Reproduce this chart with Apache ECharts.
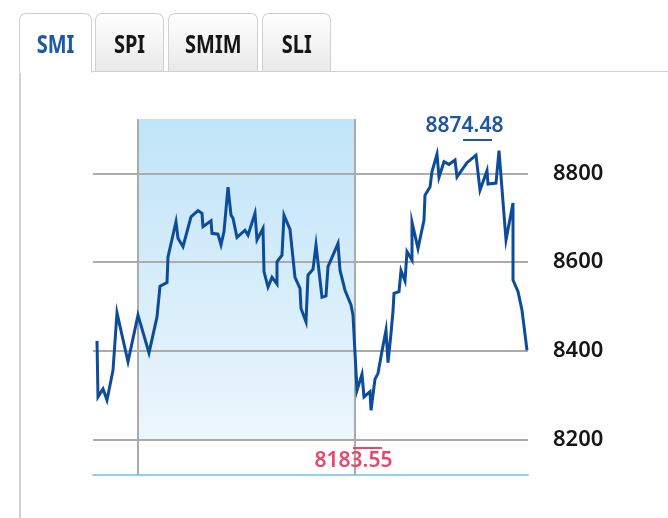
<!DOCTYPE html>
<html>
<head>
<meta charset="utf-8">
<script src="https://cdn.jsdelivr.net/npm/echarts@6/dist/echarts.min.js"></script>
<style>
  html, body { margin: 0; padding: 0; background: #fff; }
  .page { position: relative; width: 668px; height: 518px; overflow: hidden; }
  #chart { position: absolute; left: 0; top: 0; width: 668px; height: 518px; }
  .tab {
    position: absolute; top: 13px; height: 58px;
    border: 1.5px solid #d0d0d0; border-bottom: none;
    border-radius: 7px 7px 0 0;
    background: linear-gradient(#ffffff, #e9e9e9);
    font: 700 25px 'Noto Sans', sans-serif;
    color: #161616; text-align: center; line-height: 58px;
    box-sizing: border-box;
  }
  .tab span { display: inline-block; transform: scaleX(0.8); }
  .tab.active { background: #fff; color: #1d5aa5; height: 60px; z-index: 2; }
  .rule { position: absolute; top: 70.5px; left: 90px; right: 0; height: 1.5px; background: #cfcfcf; }
  .side { position: absolute; top: 60px; left: 19px; width: 1.5px; bottom: 0; background: #d0d0d0; }
</style>
</head>
<body>
<div class="page">
  <div id="chart"></div>
  <div class="rule"></div>
  <div class="side"></div>
  <div class="tab active" style="left:19px;width:73px;"><span>SMI</span></div>
  <div class="tab" style="left:95px;width:69px;"><span>SPI</span></div>
  <div class="tab" style="left:168px;width:90px;"><span>SMIM</span></div>
  <div class="tab" style="left:262px;width:69px;"><span>SLI</span></div>
</div>
<script>
// time position along the period and index level
const t = [4, 5, 10, 14, 20, 24, 35, 45, 56, 64, 67, 74, 75, 83, 85, 90, 98, 105, 109, 110,
  118, 119, 125, 128, 131, 135, 138, 140, 144, 152, 155, 162, 164, 170, 171, 175, 179, 184, 184, 189,
  191, 197, 202, 207, 208, 213, 215, 220, 223, 229, 233, 235, 240, 245, 247, 252, 258, 260, 264, 269,
  271, 277, 278, 282, 285, 289, 293, 295, 298, 300, 301, 306, 308, 312, 314, 319, 319, 325, 331, 332,
  337, 339, 344, 346, 351, 356, 362, 364, 374, 383, 387, 394, 395, 403, 406, 413, 420, 420, 425, 429, 434]
const smi = [8423, 8297, 8315, 8290, 8357, 8486, 8376, 8481, 8396, 8477, 8546, 8554, 8612, 8691, 8654, 8635, 8702, 8716, 8710, 8680,
  8693, 8665, 8663, 8639, 8669, 8769, 8706, 8699, 8656, 8672, 8661, 8710, 8650, 8676, 8579, 8544, 8566, 8551, 8601, 8616,
  8706, 8674, 8566, 8541, 8496, 8466, 8571, 8584, 8639, 8521, 8524, 8590, 8616, 8642, 8582, 8537, 8504, 8481, 8312, 8348,
  8297, 8309, 8267, 8337, 8350, 8400, 8447, 8374, 8440, 8490, 8530, 8534, 8581, 8558, 8624, 8605, 8690, 8631, 8695, 8751,
  8769, 8804, 8843, 8791, 8826, 8820, 8830, 8792, 8824, 8841, 8762, 8806, 8776, 8778, 8851, 8650, 8733, 8560, 8534, 8492, 8402]
const yTicks = [8200, 8400, 8600, 8800]
const highlight = [45, 262]
const maxValue = 8874.48
const maxSpan = [370, 399]
const minValue = 8183.55
const minSpan = [260, 289]

const yMin = 8121.3
const yMax = 8922.2

const chart = echarts.init(document.getElementById('chart'))

const gridLines = yTicks.map(v => ({ yAxis: v }))
const option = {
  animation: false,
  grid: { left: 93, right: 140, top: 119, bottom: 43 },
  xAxis: {
    type: 'value',
    min: 0,
    max: 435,
    axisLine: { show: true, onZero: false, lineStyle: { color: '#8fd0f2', width: 2 } },
    axisTick: { show: false },
    axisLabel: { show: false },
    splitLine: { show: false }
  },
  yAxis: {
    type: 'value',
    min: yMin,
    max: yMax,
    show: false
  },
  series: [
    {
      type: 'line',
      data: t.map((x, i) => [x, smi[i]]),
      symbol: 'none',
      clip: false,
      z: 5,
      lineStyle: { color: '#0d4c9b', width: 3, join: 'miter' },
      markArea: {
        silent: true,
        itemStyle: {
          color: new echarts.graphic.LinearGradient(0, 0, 0, 1, [
            { offset: 0, color: '#c0e4f8' },
            { offset: 1, color: '#ecf6fd' }
          ])
        },
        data: [[{ coord: [highlight[0], 8200] }, { coord: [highlight[1], yMax] }]]
      },
      markLine: {
        silent: true,
        symbol: 'none',
        lineStyle: { color: '#ababab', width: 2, type: 'solid' },
        label: {
          show: true,
          position: 'end',
          distance: 25,
          color: '#161616',
          fontFamily: 'Noto Sans',
          fontWeight: 600,
          fontSize: 22,
          formatter: p => p.value
        },
        data: [
          ...gridLines,
          { xAxis: highlight[0], label: { show: false } },
          { xAxis: highlight[1], label: { show: false } },
          [
            { coord: [maxSpan[0], maxValue], lineStyle: { color: '#1d57a2', width: 2 }, label: { show: false } },
            { coord: [maxSpan[1], maxValue] }
          ],
          [
            { coord: [minSpan[0], minValue], lineStyle: { color: '#e8476b', width: 2 }, label: { show: false } },
            { coord: [minSpan[1], minValue] }
          ]
        ]
      },
      markPoint: {
        silent: true,
        symbolSize: 0,
        label: {
          show: true,
          fontFamily: 'Noto Sans',
          fontWeight: 600,
          fontSize: 21
        },
        data: [
          { coord: [maxSpan[0] + 1.5, maxValue], value: maxValue,
            label: { color: '#1d57a2', offset: [0, -14], formatter: String(maxValue) } },
          { coord: [minSpan[0] + 0.5, minValue], value: minValue,
            label: { color: '#e8476b', offset: [0, 14], formatter: String(minValue) } }
        ]
      }
    }
  ]
}

option && chart.setOption(option)
</script>
</body>
</html>
